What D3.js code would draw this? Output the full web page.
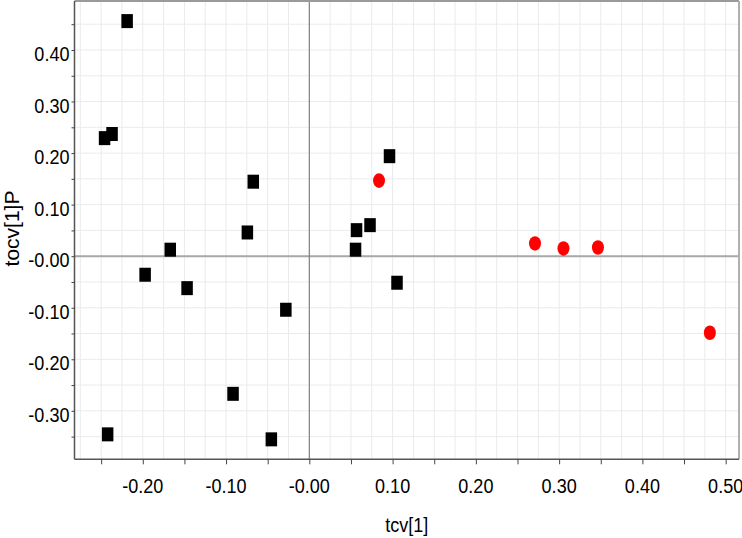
<!DOCTYPE html>
<html>
<head>
<meta charset="utf-8">
<script src="https://cdn.jsdelivr.net/npm/d3@7"></script>
<style>
  html, body { margin: 0; padding: 0; background: #fff; }
  svg { display: block; }
  text { font-family: "Liberation Sans", Arial, sans-serif; fill: #000; }
</style>
</head>
<body>
<svg id="chart" width="742" height="538"></svg>
<script>
// ---- data ----
const squaresX = [-0.2188, -0.2459, -0.2369, -0.0673, -0.0744, -0.167, -0.1972, -0.1468, -0.0282, -0.0916, -0.2422, -0.0456, 0.0555, 0.0567, 0.0729, 0.0963, 0.1053];
const squaresY = [0.456, 0.229, 0.237, 0.1445, 0.046, 0.0126, -0.036, -0.062, -0.1039, -0.267, -0.3456, -0.3553, 0.0126, 0.0505, 0.0602, 0.194, -0.0515];
const circlesX = [0.0837, 0.271, 0.3052, 0.3466, 0.481];
const circlesY = [0.1466, 0.0247, 0.015, 0.0169, -0.1485];

const xTickValues = [-0.2, -0.1, 0.0, 0.1, 0.2, 0.3, 0.4, 0.5];
const yTickValues = [-0.3, -0.2, -0.1, 0.0, 0.1, 0.2, 0.3, 0.4];
const xMinorTicks = [-0.25, -0.2, -0.15, -0.1, -0.05, 0, 0.05, 0.1, 0.15, 0.2, 0.25, 0.3, 0.35, 0.4, 0.45, 0.5];
const yMinorTicks = [-0.35, -0.3, -0.25, -0.2, -0.15, -0.1, -0.05, 0, 0.05, 0.1, 0.15, 0.2, 0.25, 0.3, 0.35, 0.4, 0.45];
const xGridValues = d3.range(-11, 21).map(i => i * 0.025);
const yGridValues = d3.range(-7, 10).map(i => i * 0.05);
const xTitle = "tcv[1]";
const yTitle = "tocv[1]P";

// ---- layout ----
const pLeft = 74.5, pRight = 739, pTop = 1, pBottom = 459.3;
const x = d3.scaleLinear().domain([-0.282, 0.516]).range([pLeft, pRight]);
const y = d3.scaleLinear().domain([-0.394, 0.495]).range([pBottom, pTop]);
const fmt = v => (Math.abs(v) < 1e-9 ? "-0.00" : (v < 0 ? "-" : "") + Math.abs(v).toFixed(2));
const SQ = 0.86; // horizontal squeeze of the tick-label lettering

const svg = d3.select("#chart");

// grid
const grid = svg.append("g");
grid.selectAll("line.vg").data(xGridValues.filter(v => x(v) > pLeft + 1 && x(v) < pRight - 1)).join("line")
  .attr("x1", d => x(d)).attr("x2", d => x(d)).attr("y1", pTop).attr("y2", pBottom)
  .attr("stroke", "#ebebeb").attr("stroke-width", 1);
grid.selectAll("line.hg").data(yGridValues.filter(v => y(v) > pTop + 1 && y(v) < pBottom - 1)).join("line")
  .attr("x1", pLeft).attr("x2", pRight).attr("y1", d => y(d)).attr("y2", d => y(d))
  .attr("stroke", "#ebebeb").attr("stroke-width", 1);

// zero lines
svg.append("line").attr("x1", pLeft).attr("x2", pRight).attr("y1", y(0)).attr("y2", y(0))
  .attr("stroke", "#a8a8a8").attr("stroke-width", 2);
svg.append("line").attr("x1", x(0)).attr("x2", x(0)).attr("y1", pTop).attr("y2", pBottom)
  .attr("stroke", "#808080").attr("stroke-width", 1.2);

// frame (top / right)
svg.append("line").attr("x1", pLeft).attr("x2", pRight).attr("y1", pTop).attr("y2", pTop)
  .attr("stroke", "#9a9a9a").attr("stroke-width", 2);
svg.append("line").attr("x1", pRight).attr("x2", pRight).attr("y1", pTop).attr("y2", pBottom)
  .attr("stroke", "#b0b0b0").attr("stroke-width", 2);

// axes
const xAxis = d3.axisBottom(x).tickValues(xMinorTicks).tickSize(5).tickFormat("");
const yAxis = d3.axisLeft(y).tickValues(yMinorTicks).tickSize(3).tickFormat("");
const gx = svg.append("g").attr("transform", `translate(0,${pBottom})`).call(xAxis);
const gy = svg.append("g").attr("transform", `translate(${pLeft},0)`).call(yAxis);
[gx, gy].forEach(g => {
  g.select(".domain").attr("stroke", "#555").attr("stroke-width", 1.5);
  g.selectAll(".tick line").attr("stroke", "#444");
});
gx.select(".domain").attr("d", `M${pLeft},0H${pRight}`);
gy.select(".domain").attr("d", `M0,${pTop}V${pBottom}`);

// tick labels
svg.append("g").selectAll("text").data(xTickValues).join("text")
  .attr("transform", d => `translate(${x(d)},493) scale(${SQ},1)`)
  .attr("text-anchor", "middle").attr("font-size", 21)
  .text(fmt);
svg.append("g").selectAll("text").data(yTickValues).join("text")
  .attr("transform", d => `translate(69.5,${y(d) + 11}) scale(${SQ},1)`)
  .attr("text-anchor", "end").attr("font-size", 21)
  .text(fmt);

// axis titles
svg.append("text")
  .attr("transform", `translate(${(pLeft + pRight) / 2},532) scale(${SQ},1)`)
  .attr("text-anchor", "middle").attr("font-size", 21).text(xTitle);
svg.append("text")
  .attr("transform", `translate(19,228.5) rotate(-90)`)
  .attr("text-anchor", "middle").attr("font-size", 21).text(yTitle);

// marks
svg.append("g").selectAll("rect").data(squaresX.map((v, i) => [v, squaresY[i]])).join("rect")
  .attr("x", d => x(d[0]) - 5.75).attr("y", d => y(d[1]) - 7)
  .attr("width", 11.5).attr("height", 14)
  .attr("fill", "#000");
svg.append("g").selectAll("ellipse").data(circlesX.map((v, i) => [v, circlesY[i]])).join("ellipse")
  .attr("cx", d => x(d[0])).attr("cy", d => y(d[1]))
  .attr("rx", 6).attr("ry", 7.3)
  .attr("fill", "#ff0000");
</script>
</body>
</html>
